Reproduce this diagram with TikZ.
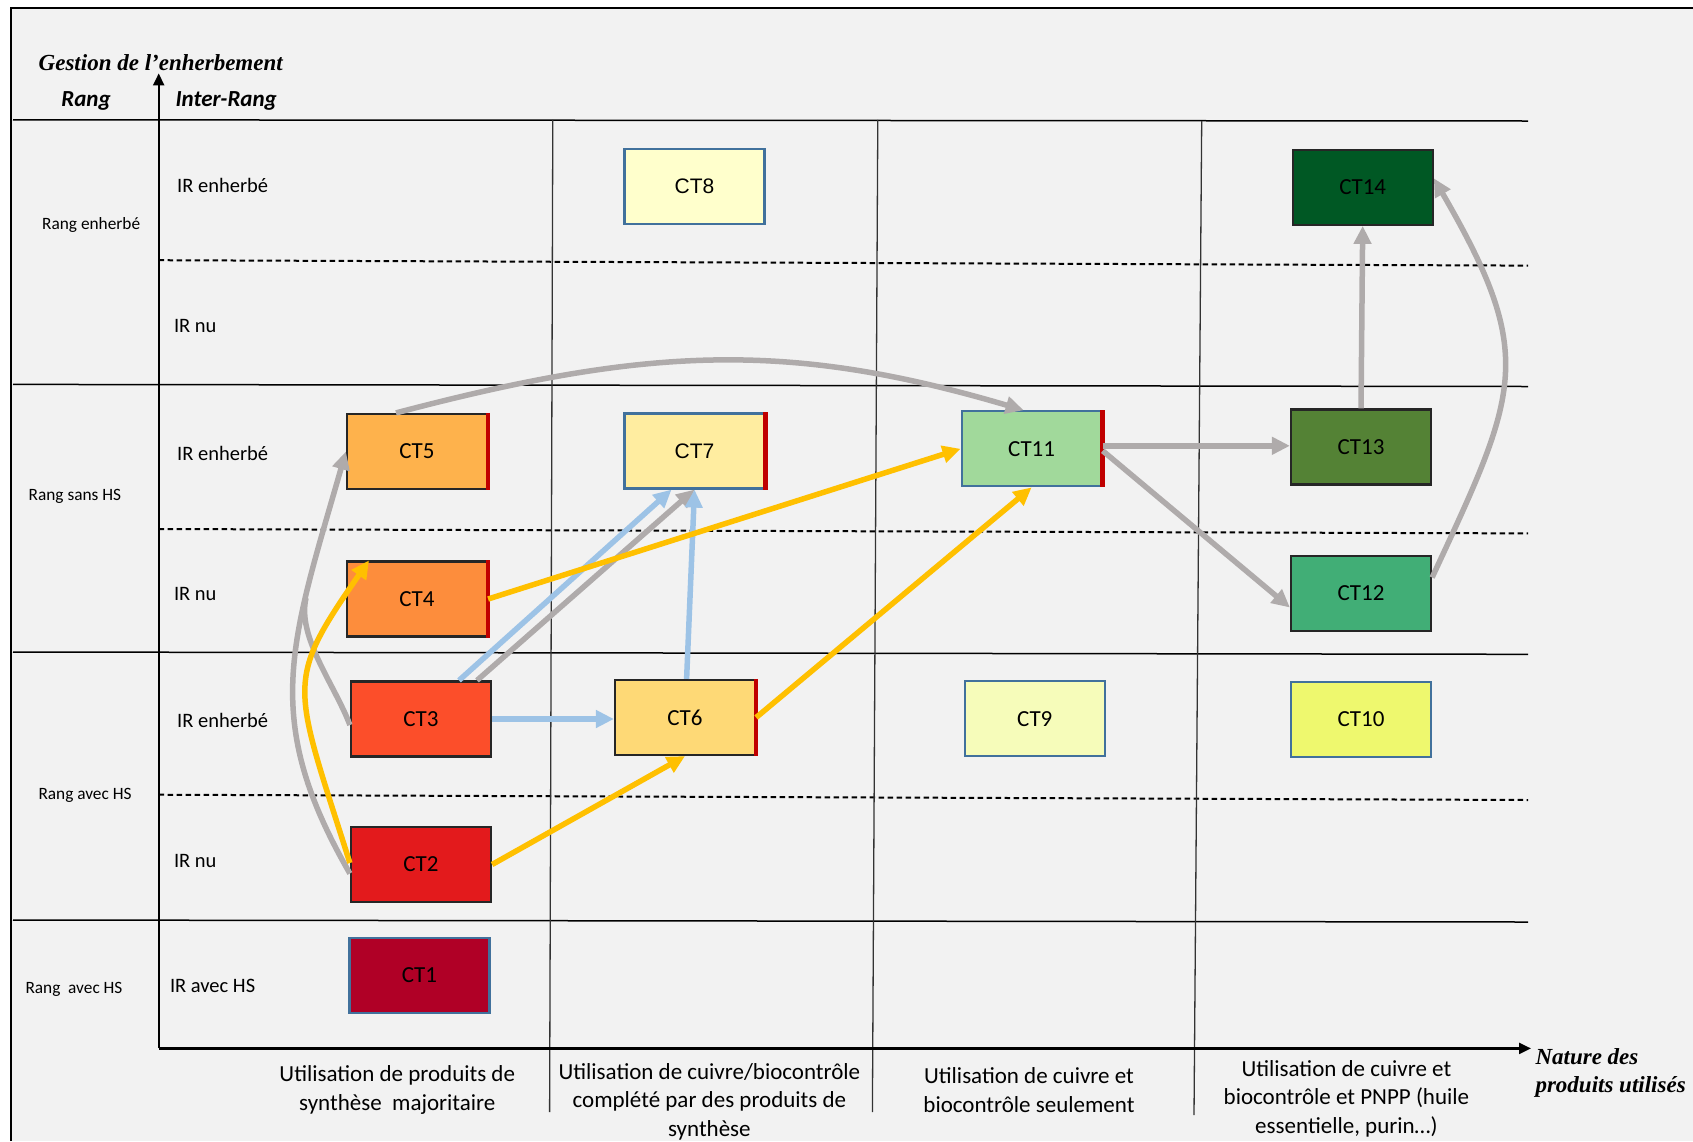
\documentclass[tikz,border=0pt]{standalone}
\usepackage{fontspec}
\setmainfont{Carlito}
\newfontfamily\tnrfont{Liberation Serif}
\newfontfamily\arialfont{Liberation Sans}
\usetikzlibrary{arrows.meta,calc}
\newcommand{\myfs}[1]{\fontsize{#1}{#1}\selectfont}
\definecolor{bgc}{HTML}{F2F2F2}
\definecolor{bdark}{HTML}{262626}
\definecolor{bblue}{HTML}{41719C}
\definecolor{barred}{HTML}{C00000}
\definecolor{agray}{HTML}{AFABAB}
\definecolor{ablue}{HTML}{9DC3E6}
\definecolor{ayellow}{HTML}{FFC000}
\definecolor{c1}{HTML}{B00026}
\definecolor{c2}{HTML}{E31A1C}
\definecolor{c3}{HTML}{FC4E2A}
\definecolor{c4}{HTML}{FD8D3C}
\definecolor{c5}{HTML}{FEB24C}
\definecolor{c6}{HTML}{FED976}
\definecolor{c7}{HTML}{FFEDA0}
\definecolor{c8}{HTML}{FFFFCC}
\definecolor{c9}{HTML}{F6FCBA}
\definecolor{c10}{HTML}{EEF86E}
\definecolor{c11}{HTML}{A1D99B}
\definecolor{c12}{HTML}{41AE76}
\definecolor{c13}{HTML}{548235}
\definecolor{c14}{HTML}{005824}
\tikzset{
  ctbox/.style={rectangle, minimum width=140pt, minimum height=75pt, inner sep=0pt, line width=2.2pt, text=black, font=\myfs{23}},
  darkb/.style={draw=bdark},
  blueb/.style={draw=bblue},
  arialbox/.style={font=\arialfont\myfs{21}},
  redbar/.style={draw=barred, line width=4.5pt},
  conn/.style={line width=5.5pt, -{Triangle[length=18pt,width=17pt]}},
  garr/.style={conn, draw=agray},
  barr/.style={conn, draw=ablue},
  yarr/.style={conn, draw=ayellow},
  gline/.style={line width=5.5pt, draw=agray},
  rowline/.style={line width=1.5pt, draw=black},
  dashline/.style={line width=2pt, draw=black, dash pattern=on 5.5pt off 3.5pt},
  colline/.style={line width=1.3pt, draw=black!80},
  axisline/.style={line width=2.2pt, draw=black, -{Triangle[length=12pt,width=11pt]}},
  irlab/.style={anchor=base west, inner sep=0pt, font=\myfs{20.5}},
  rglab/.style={anchor=base west, inner sep=0pt, font=\myfs{17.3}},
  botlab/.style={anchor=base, inner sep=0pt, font=\myfs{23}},
  headlab/.style={anchor=base west, inner sep=0pt, font=\bfseries\itshape\myfs{23}},
  serifbi/.style={anchor=base west, inner sep=0pt, font=\tnrfont\bfseries\itshape\myfs{23}},
}
\begin{document}
\begin{tikzpicture}[x=1pt,y=-1pt]
\useasboundingbox (0,0) rectangle (1693,1141);
\fill[white] (0,0) rectangle (1693,1141);
\fill[bgc] (10.8,7.6) rectangle (1693,1141);
\draw[line width=2pt] (10.8,1141) -- (10.8,7.6) -- (1693,7.6);

% grid
\draw[rowline] (13,119.8) -- (1528,121);
\draw[rowline] (13,384.4) -- (1528,386.5);
\draw[rowline] (13,652) -- (1528,654.3);
\draw[rowline] (13,920) -- (1528,922);
\draw[dashline] (158.7,260.2) -- (1528,265.6);
\draw[dashline] (158.7,529) -- (1528,533.4);
\draw[dashline] (158.7,794.7) -- (1528,800);
\draw[colline] (552.8,119.8) -- (549.6,1112);
\draw[colline] (877.8,119.8) -- (872.4,1112);
\draw[colline] (1201.7,121) -- (1194,1115);

% axes
\coordinate (O) at (158.7,1048.4);
\coordinate (Ytop) at (158.7,73.4);
\coordinate (Xend) at (1531,1048.4);
\draw[axisline] (O) -- (Ytop);
\draw[axisline] (O) -- (Xend);

% headings
\node[serifbi] (title) at (38.5,70) {Gestion de l’enherbement};
\node[headlab] (hrang) at (61.2,106) {Rang};
\node[headlab] (hinter) at (175.3,106) {Inter-Rang};

% row labels
\node[rglab] (r1) at (42,229) {Rang enherbé};
\node[rglab] (r2) at (28.5,500) {Rang sans HS};
\node[rglab] (r3) at (38.3,799) {Rang avec HS};
\node[rglab] (r4) at (25.3,993.5) {Rang\ \ avec HS};

\node[irlab] (i1) at (177,192.5) {IR enherbé};
\node[irlab] (i2) at (173.8,332.5) {IR nu};
\node[irlab] (i3) at (177,460) {IR enherbé};
\node[irlab] (i4) at (173.8,600.3) {IR nu};
\node[irlab] (i5) at (177,727.7) {IR enherbé};
\node[irlab] (i6) at (173.8,867) {IR nu};
\node[irlab] (i7) at (169.8,992.5) {IR avec HS};

% bottom labels
\node[botlab] (b11) at (397.3,1081.5) {Utilisation de produits de};
\node[botlab] (b12) at (397.3,1110) {synthèse\ \ majoritaire};
\node[botlab] (b21) at (709.4,1079) {Utilisation de cuivre/biocontrôle};
\node[botlab] (b22) at (709.4,1107.5) {complété par des produits de};
\node[botlab] (b23) at (709.4,1136) {synthèse};
\node[botlab] (b31) at (1029,1083.5) {Utilisation de cuivre et};
\node[botlab] (b32) at (1029,1112) {biocontrôle seulement};
\node[botlab] (b41) at (1346.4,1076) {Utilisation de cuivre et};
\node[botlab] (b42) at (1346.4,1104.5) {biocontrôle et PNPP (huile};
\node[botlab] (b43) at (1346.4,1133) {essentielle, purin…)};
\node[serifbi] (n1) at (1535.3,1064.6) {Nature des};
\node[serifbi] (n2) at (1535.3,1092.6) {produits utilisés};

% boxes
\node[ctbox, blueb, fill=c1] (CT1) at (419.5,975.5) {CT1};
\node[ctbox, darkb, fill=c2] (CT2) at (421,864.5) {CT2};
\node[ctbox, darkb, fill=c3] (CT3) at (421,719) {CT3};
\node[ctbox, darkb, fill=c4] (CT4) at (417,599) {CT4};
\node[ctbox, darkb, fill=c5] (CT5) at (417,451.5) {CT5};
\node[ctbox, darkb, fill=c6] (CT6) at (685,717.5) {CT6};
\node[ctbox, blueb, fill=c7, arialbox] (CT7) at (694.5,451) {CT7};
\node[ctbox, blueb, fill=c8, arialbox] (CT8) at (694.5,186.3) {CT8};
\node[ctbox, blueb, fill=c9] (CT9) at (1034.8,718.8) {CT9};
\node[ctbox, blueb, fill=c10] (CT10) at (1361,719.5) {CT10};
\node[ctbox, blueb, fill=c11] (CT11) at (1031.6,448.8) {CT11};
\node[ctbox, darkb, fill=c12] (CT12) at (1361,593.5) {CT12};
\node[ctbox, darkb, fill=c13] (CT13) at (1361,447) {CT13};
\node[ctbox, darkb, fill=c14] (CT14) at (1362.7,187.3) {CT14};

\foreach \b in {CT4,CT5,CT6,CT7,CT11}
  \draw[redbar] (\b.north east) -- (\b.south east);

% connectors
\coordinate (m35) at (306,598);
\draw[garr] ([yshift=-9pt]CT2.west) .. controls +(-90,-156) and +(-55,192) .. (CT5.west);
\draw[gline] ([yshift=-6pt]CT3.west) .. controls +(-15,-40) and +(-9.2,38.8) .. (m35);
\draw[yarr] ([yshift=1.5pt]CT2.west) .. controls +(-57,-180.5) and +(-85.5,123) .. ([xshift=-48pt]CT4.north);
\draw[garr] ([xshift=-21pt]CT5.north) .. controls +(254,-67) and +(-234,-69) .. ([xshift=-8pt]CT11.north);
\draw[garr] ([xshift=56pt]CT3.north) -- (CT7.south);
\draw[barr] ([xshift=38pt]CT3.north) -- ([xshift=-23pt]CT7.south);
\draw[barr] (CT3.east) -- (CT3.east -| CT6.west);
\draw[barr] ([xshift=1.6pt]CT6.north) -- (CT7.south);
\draw[yarr] (CT4.east) -- (CT11.west);
\draw[yarr] (CT2.east) -- (CT6.south);
\draw[yarr] (CT6.east) -- (CT11.south);
\draw[garr] ([yshift=3pt]CT11.east) -- ([yshift=3pt]CT11.east -| CT13.west);
\draw[garr] ([yshift=-2pt]CT11.east) -- ([yshift=-14pt]CT12.west);
\draw[garr] (CT13.north) -- (CT14.south);
\draw[garr] ([yshift=16pt]CT12.east) .. controls +(87,-187) and +(103,178) .. ([yshift=9pt]CT14.east);
\end{tikzpicture}
\end{document}
